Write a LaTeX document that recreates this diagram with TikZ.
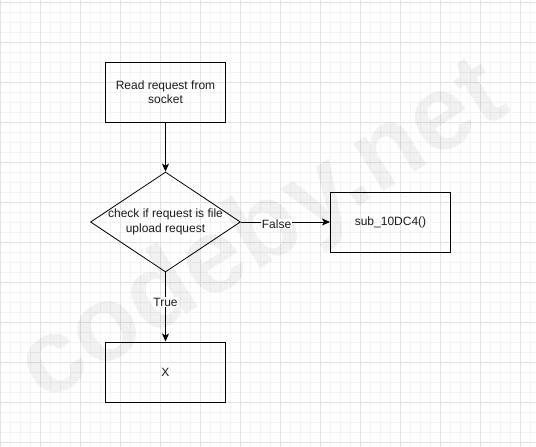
\documentclass[tikz,border=0pt]{standalone}
\usepackage{fontspec}
\setmainfont{Liberation Sans}
\usetikzlibrary{shapes.geometric,arrows.meta}
\definecolor{gridMinor}{HTML}{F3F3F3}
\definecolor{gridMajor}{HTML}{E2E2E2}
\definecolor{inkC}{HTML}{1A1A1A}
\tikzset{
  stepbox/.style={draw=black, line width=1pt, minimum width=120pt, minimum height=60pt,
    inner sep=0pt, align=center, text=inkC, font=\fontsize{12}{14.4}\selectfont},
  decide/.style={diamond, draw=black, line width=0.8pt, minimum width=150pt, minimum height=100pt,
    inner sep=0pt},
  flow/.style={draw=black, line width=1pt, -{Stealth[length=8pt,width=7pt,inset=2pt]}},
  branch/.style={fill=white, inner sep=0.5pt, yshift=-2pt, text=inkC, font=\fontsize{12}{14.4}\selectfont}
}

\begin{document}
\begin{tikzpicture}[x=1pt, y=-1pt]
  \useasboundingbox (0,0) rectangle (536,447);

  % ---- background grid ----
  \foreach \x in {0,10,...,530} \draw[gridMinor, line width=1pt] (\x,0) -- (\x,447);
  \foreach \y in {2,12,...,442} \draw[gridMinor, line width=1pt] (0,\y) -- (536,\y);
  \foreach \x in {0,40,...,520} \draw[gridMajor, line width=1pt] (\x,0) -- (\x,447);
  \foreach \y in {2,42,...,442} \draw[gridMajor, line width=1pt] (0,\y) -- (536,\y);

  % ---- watermark ----
  \node[rotate=32, text=black, text opacity=0.055, inner sep=0pt,
    font=\fontsize{106}{106}\bfseries\selectfont] (wm) at (264,234) {codeby.net};

  % ---- flow ----
  \node[stepbox] (read) at (165.5,92) {Read request from\\socket};
  \node[decide, label={[align=center, text=inkC, font=\fontsize{12}{14.4}\selectfont]center:check if request is file\\upload request}]
    (check) at (165.5,222) {};
  \node[stepbox] (sub) at (390.5,222) {sub\_10DC4()};
  \node[stepbox] (xbox) at (165.5,372) {X};

  \draw[flow] (read.south) -- (check.north);
  \draw[flow] (check.east) -- (sub.west) node[branch, pos=0.4] (lfalse) {False};
  \draw[flow] (check.south) -- (xbox.north) node[branch, pos=0.4] (ltrue) {True};
\end{tikzpicture}
\end{document}
